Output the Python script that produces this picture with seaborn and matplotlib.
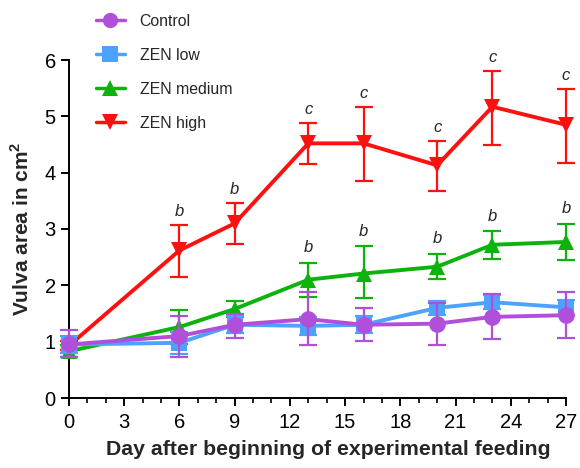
import matplotlib
matplotlib.use("Agg")
import matplotlib.pyplot as plt
import seaborn as sns
import pandas as pd
import numpy as np
from matplotlib.lines import Line2D

days = [0, 6, 9, 13, 16, 20, 23, 27]
groups = ["Control", "ZEN low", "ZEN medium", "ZEN high"]

control_mean = [0.95, 1.10, 1.30, 1.40, 1.30, 1.32, 1.44, 1.47]
control_lo   = [0.72, 0.73, 1.06, 0.94, 1.02, 0.94, 1.04, 1.06]
control_hi   = [1.21, 1.46, 1.50, 1.89, 1.59, 1.68, 1.85, 1.89]

low_mean = [0.95, 0.98, 1.30, 1.28, 1.30, 1.60, 1.70, 1.61]
low_lo   = [0.80, 0.78, 1.15, 1.12, 1.15, 1.48, 1.58, 1.48]
low_hi   = [1.10, 1.18, 1.45, 1.44, 1.45, 1.72, 1.82, 1.74]

med_mean = [0.83, 1.26, 1.58, 2.10, 2.21, 2.33, 2.72, 2.77]
med_lo   = [0.72, 0.95, 1.44, 1.80, 1.77, 2.11, 2.46, 2.45]
med_hi   = [0.94, 1.57, 1.72, 2.40, 2.69, 2.56, 2.96, 3.09]

high_mean = [0.93, 2.62, 3.10, 4.52, 4.52, 4.13, 5.17, 4.85]
high_lo   = [0.85, 2.14, 2.73, 4.15, 3.86, 3.67, 4.50, 4.18]
high_hi   = [1.01, 3.07, 3.47, 4.88, 5.17, 4.56, 5.81, 5.49]

high_letters = ["", "b", "b", "c", "c", "c", "c", "c"]
med_letters  = ["", "", "", "b", "b", "b", "b", "b"]

colors = {"Control": "#B04FD9", "ZEN low": "#4DA2FF",
          "ZEN medium": "#0DB20D", "ZEN high": "#FF1010"}
markers = {"Control": "o", "ZEN low": "s", "ZEN medium": "^", "ZEN high": "v"}

series = {
    "Control": (control_mean, control_lo, control_hi),
    "ZEN low": (low_mean, low_lo, low_hi),
    "ZEN medium": (med_mean, med_lo, med_hi),
    "ZEN high": (high_mean, high_lo, high_hi),
}

rows = []
for g in groups:
    m, lo, hi = series[g]
    for d, v, l, h in zip(days, m, lo, hi):
        rows.append({"day": d, "area": v, "lo": l, "hi": h, "group": g})
df = pd.DataFrame(rows)

sns.set_style("ticks")
plt.rcParams["font.family"] = ["Liberation Sans", "DejaVu Sans"]

fig = plt.figure(figsize=(5.8, 4.68), dpi=100)
ax = fig.add_axes([69/580, 70/468, 497/580, 338/468])

draw_order = ["ZEN high", "ZEN medium", "ZEN low", "Control"]
for i, g in enumerate(draw_order):
    sub = df[df.group == g]
    c = colors[g]
    ax.errorbar(sub.day, sub.area,
                yerr=[sub.area - sub.lo, sub.hi - sub.area],
                fmt="none", ecolor=c, elinewidth=1.6, capsize=6.5, capthick=1.6,
                zorder=2 + i * 2, clip_on=False)
    sns.lineplot(data=sub, x="day", y="area", color=c, marker=markers[g],
                 markersize=12 if g in ("Control", "ZEN low") else 11.5,
                 markeredgewidth=0, linewidth=2.8, ax=ax, zorder=3 + i * 2,
                 clip_on=False, legend=False)

for d, l, h in zip(days, high_letters, high_hi):
    if l:
        ax.text(d, h + 0.24, l, ha="center", va="center", fontsize=12, style="italic")
for d, l, h in zip(days, med_letters, med_hi):
    if l:
        ax.text(d, h + 0.27, l, ha="center", va="center", fontsize=12, style="italic")

ax.set_xlim(0, 27)
ax.set_ylim(0, 6)
ax.set_xticks(range(0, 28, 3))
ax.set_xticks(range(0, 28, 1), minor=True)
ax.set_yticks(range(0, 7))
ax.tick_params(axis="both", which="major", length=6, width=1.4, labelsize=14.5,
               direction="out", color="black", labelcolor="black")
ax.tick_params(axis="x", which="major", pad=5)
ax.tick_params(axis="x", which="minor", length=3.5, width=1.2, color="black")
for s in ["left", "bottom"]:
    ax.spines[s].set_linewidth(1.4)
    ax.spines[s].set_color("black")
sns.despine(ax=ax)

ax.set_xlabel("Day after beginning of experimental feeding", fontsize=15.3,
              fontweight="bold", labelpad=8)
ax.xaxis.set_label_coords(0.521, -0.125)
ax.set_ylabel("Vulva area in cm$^\\mathregular{2}$", fontsize=15, fontweight="bold")
ax.yaxis.set_label_coords(-0.072, 0.5)

leg_handles = [Line2D([0], [0], color=colors[g], marker=markers[g], markersize=11,
                      markeredgewidth=0, linewidth=2.5) for g in groups]
fig.legend(leg_handles, groups, loc="upper left", bbox_to_anchor=(96/580, 0.970),
           frameon=False, fontsize=11.4, handlelength=1.8, handletextpad=0.95,
           labelspacing=1.2, borderpad=0, borderaxespad=0)

fig.savefig("out.png", dpi=100)
